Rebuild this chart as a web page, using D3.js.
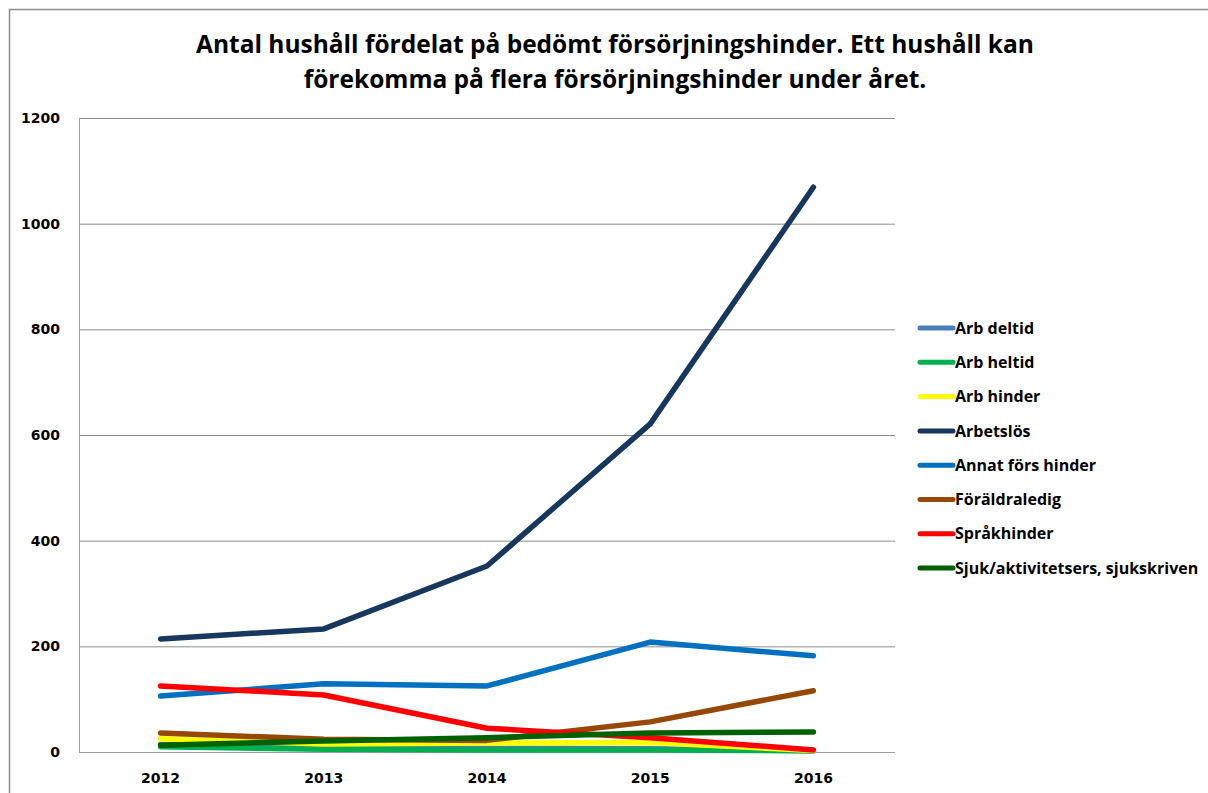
<!DOCTYPE html>
<html><head><meta charset="utf-8">
<script src="https://cdn.jsdelivr.net/npm/d3@7"></script>
<style>body{margin:0;background:#fff}svg{display:block}text{font-family:Lato,"Open Sans",sans-serif;font-weight:bold}.os{font-family:"Open Sans",Lato,sans-serif}.dv{font-family:"DejaVu Sans",sans-serif}</style>
</head><body>
<script>
const years = ["2012","2013","2014","2015","2016"];
const seriesNames = ["Arb deltid","Arb heltid","Arb hinder","Arbetslös","Annat förs hinder","Föräldraledig","Språkhinder","Sjuk/aktivitetsers, sjukskriven"];
const seriesColors = ["#4a7ebb","#00b050","#ffff00","#17375e","#0070c0","#974706","#ff0000","#006100"];
const arbDeltid = [14, 9, 7, 6, 3];
const arbHeltid = [10, 5, 4, 4, 2];
const arbHinder = [25, 15, 17, 18, 3];
const arbetslos = [214, 233, 352, 621, 1069];
const annatForsHinder = [106, 129, 125, 208, 182];
const foraldraledig = [36, 24, 22, 57, 116];
const sprakhinder = [125, 108, 45, 27, 4];
const sjuk = [13, 21, 27, 36, 38];
const yTicks = [0, 200, 400, 600, 800, 1000, 1200];
const titleLines = ["Antal hushåll fördelat på bedömt försörjningshinder. Ett hushåll kan","förekomma på flera försörjningshinder under året."];

const allValues = [arbDeltid, arbHeltid, arbHinder, arbetslos, annatForsHinder, foraldraledig, sprakhinder, sjuk];

const W = 1208, H = 793;
const svg = d3.select("body").append("svg").attr("width", W).attr("height", H);

// frame
svg.append("path").attr("d", `M9.5,${H} L9.5,9.5 L${W},9.5`).attr("fill","none").attr("stroke","#8c8c8c").attr("stroke-width",1.5);

const x = d3.scalePoint().domain(years).range([79 + 81.6, 895 - 81.6]);
const y = d3.scaleLinear().domain([0, 1200]).range([752, 118]);

// gridlines
svg.append("g").selectAll("line").data(yTicks).join("line")
  .attr("x1", 79).attr("x2", 895)
  .attr("y1", d => y(d)+0.5).attr("y2", d => y(d)+0.5)
  .attr("stroke", d => d === 0 ? "#a0a0a0" : "#8c8c8c").attr("stroke-width", 1);
svg.append("line").attr("x1", 79.5).attr("x2", 79.5).attr("y1", y(1200)).attr("y2", y(0)+0.5).attr("stroke","#a0a0a0");

// y tick labels
svg.append("g").selectAll("text").data(yTicks).join("text").attr("class","dv")
  .attr("x", 60).attr("y", d => y(d)).attr("dy", "0.35em").attr("text-anchor","end")
  .attr("font-size", 14).text(d => d);

// x labels
svg.append("g").selectAll("text").data(years).join("text").attr("class","dv")
  .attr("x", d => x(d)).attr("y", 778).attr("dy","0.35em").attr("text-anchor","middle")
  .attr("font-size", 14).text(d => d);

// title
svg.append("g").selectAll("text").data(titleLines).join("text").attr("class","os")
  .attr("x", 615).attr("y", (d,i) => 44 + i*35).attr("dy","0.35em").attr("text-anchor","middle")
  .attr("font-size", 24.5).text(d => d);

// lines
const line = d3.line().x((d,i) => x(years[i])).y(d => y(d));
svg.append("g").selectAll("path").data(allValues).join("path")
  .attr("d", d => line(d)).attr("fill","none")
  .attr("stroke", (d,i) => seriesColors[i]).attr("stroke-width", 5.5)
  .attr("stroke-linecap","round").attr("stroke-linejoin","round");

// legend
const lg = svg.append("g").selectAll("g").data(seriesNames).join("g")
  .attr("transform", (d,i) => `translate(0,${328 + i*34.3})`);
lg.append("line").attr("x1", 920).attr("x2", 953).attr("y1",0).attr("y2",0)
  .attr("stroke", (d,i) => seriesColors[i]).attr("stroke-width", 5).attr("stroke-linecap","round");
lg.append("text").attr("class","os").attr("x", 955).attr("y", 0).attr("dy","0.35em").attr("font-size", 16).text(d => d);
</script>
</body></html>
